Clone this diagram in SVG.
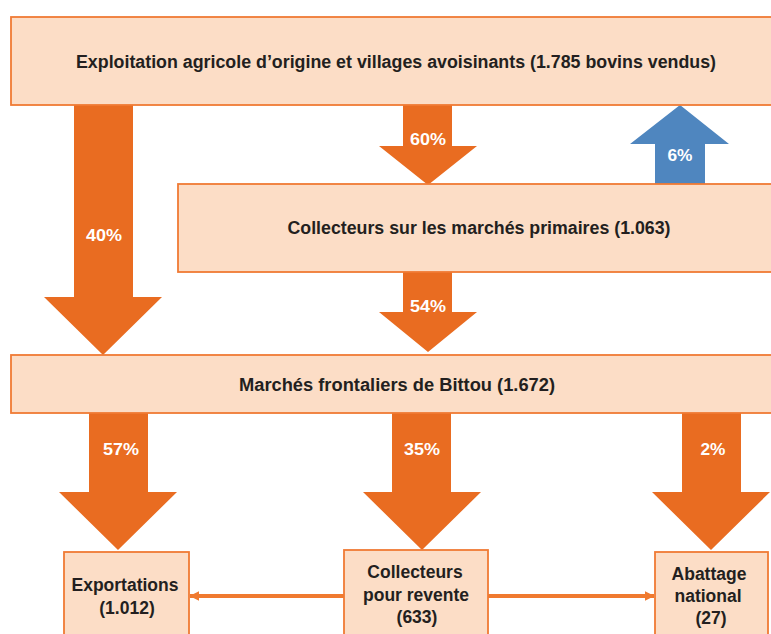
<svg xmlns="http://www.w3.org/2000/svg" width="771" height="634" viewBox="0 0 771 634">
  <style>
    .box { fill: #FCDDC6; stroke: #F07A34; stroke-width: 1.8; }
    .flow { fill: #E96C21; }
    .back { fill: #4F86BF; }
    .lbl { font-family: "Liberation Sans", Arial, sans-serif; font-weight: bold; font-size: 17.5px; fill: #231F20; text-anchor: middle; dominant-baseline: central; }
    .pct { font-family: "Liberation Sans", Arial, sans-serif; font-weight: bold; font-size: 17px; fill: #FFFFFF; text-anchor: middle; dominant-baseline: central; }
    .link { stroke: #F07A2F; stroke-width: 4; fill: none; }
  </style>
  <defs>
    <marker id="head" viewBox="0 0 10 10" refX="9.5" refY="5" markerWidth="2.4" markerHeight="3" markerUnits="strokeWidth" orient="auto">
      <path d="M0,0 L10,5 L0,10 Z" fill="#F07A2F"/>
    </marker>
  </defs>
  <rect width="771" height="634" fill="#FFFFFF"/>

  <!-- flow arrows with their shares -->
  <g id="connectors">
    <path class="flow" d="M74,104 H133 V297 H162 L103,355 L44,297 H74 Z"/>
    <text class="pct" x="104" y="235" textLength="36" lengthAdjust="spacingAndGlyphs">40%</text>
    <path class="flow" d="M403,104 H452 V146 H477 L428,185 L379,146 H403 Z"/>
    <text class="pct" x="428" y="139" textLength="36" lengthAdjust="spacingAndGlyphs">60%</text>
    <path class="back" d="M655,184 V144 H630 L680,105 L729,144 H705 V184 Z"/>
    <text class="pct" x="680" y="155" textLength="25" lengthAdjust="spacingAndGlyphs">6%</text>
    <path class="flow" d="M403,271 H452 V312 H477 L428,352 L379,312 H403 Z"/>
    <text class="pct" x="428" y="306" textLength="36" lengthAdjust="spacingAndGlyphs">54%</text>
    <path class="flow" d="M89,412 H148 V492 H177 L118,550 L59,492 H89 Z"/>
    <text class="pct" x="121" y="449" textLength="36" lengthAdjust="spacingAndGlyphs">57%</text>
    <path class="flow" d="M392,412 H451 V492 H481 L422,550 L363,492 H392 Z"/>
    <text class="pct" x="422" y="449" textLength="36" lengthAdjust="spacingAndGlyphs">35%</text>
    <path class="flow" d="M682,412 H741 V492 H770 L711,550 L652,492 H682 Z"/>
    <text class="pct" x="713" y="449" textLength="25" lengthAdjust="spacingAndGlyphs">2%</text>
    <line class="link" x1="344" y1="596" x2="190" y2="596" marker-end="url(#head)"/>
    <line class="link" x1="488" y1="596" x2="654" y2="596" marker-end="url(#head)"/>
  </g>

  <g id="origine">
    <rect class="box" x="11" y="17" width="775" height="88"/>
    <text class="lbl" x="396" y="62" textLength="640" lengthAdjust="spacingAndGlyphs">Exploitation agricole d’origine et villages avoisinants (1.785 bovins vendus)</text>
  </g>

  <g id="collecteurs-primaires">
    <rect class="box" x="178" y="184" width="608" height="88"/>
    <text class="lbl" x="479" y="228" textLength="383" lengthAdjust="spacingAndGlyphs">Collecteurs sur les marchés primaires (1.063)</text>
  </g>

  <g id="bittou">
    <rect class="box" x="11" y="355" width="775" height="58"/>
    <text class="lbl" x="397" y="385" textLength="316" lengthAdjust="spacingAndGlyphs">Marchés frontaliers de Bittou (1.672)</text>
  </g>

  <g id="exportations">
    <rect class="box" x="64" y="552" width="125" height="90"/>
    <text class="lbl" x="125" y="585">Exportations</text>
    <text class="lbl" x="127" y="608">(1.012)</text>
  </g>

  <g id="revente">
    <rect class="box" x="344" y="550" width="144" height="92"/>
    <text class="lbl" x="415" y="572">Collecteurs</text>
    <text class="lbl" x="416" y="595">pour revente</text>
    <text class="lbl" x="417" y="617">(633)</text>
  </g>

  <g id="abattage">
    <rect class="box" x="655" y="552" width="113" height="90"/>
    <text class="lbl" x="709" y="574">Abattage</text>
    <text class="lbl" x="708" y="596">national</text>
    <text class="lbl" x="711" y="618">(27)</text>
  </g>
</svg>
